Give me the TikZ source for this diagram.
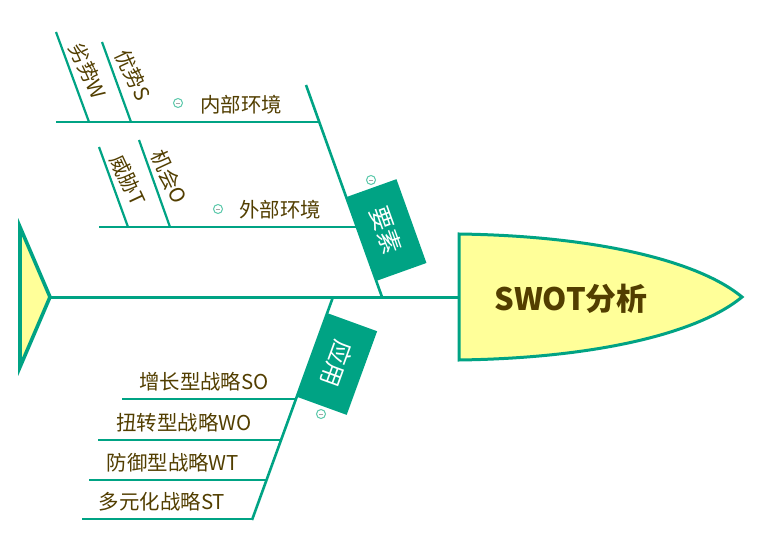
\documentclass[tikz,border=0pt]{standalone}
\usepackage{fontspec}
\setmainfont{Noto Sans CJK SC}
\usetikzlibrary{positioning}
\definecolor{mBone}{RGB}{0,163,132}
\definecolor{mHead}{RGB}{255,255,153}
\definecolor{mText}{RGB}{82,62,0}
\definecolor{mIcon}{RGB}{90,200,170}
\tikzset{
  spineln/.style={line width=3bp, mBone},
  boneln/.style={line width=2.6bp, mBone},
  twigln/.style={line width=2.2bp, mBone},
  lbl/.style={text=mText, font=\fontsize{20.5}{22}\selectfont, inner sep=0pt},
  tag/.style={fill=mBone, text=white, font=\fontsize{24}{26}\selectfont,
    minimum width=89bp, minimum height=53bp, inner sep=0pt},
  icon/.style={circle, draw=mIcon, line width=1bp, minimum size=9bp, inner sep=0pt,
    path picture={\draw[gray!70, line width=0.9bp]
      ([xshift=-2.2bp]path picture bounding box.center) --
      ([xshift=2.2bp]path picture bounding box.center);}},
}
\begin{document}
\begin{tikzpicture}[x=1bp, y=-1bp]
    \useasboundingbox (0,0) rectangle (758,541);
    % tail
    \draw[line width=3.6bp, mBone, fill=mHead, line join=miter]
      (20,227) -- (50,297) -- (20,367) -- cycle;
    \coordinate (tail) at (50,297);
    % head
    \draw[line width=3bp, mBone, fill=mHead]
      (459,234) .. controls (600,236) and (700,262) .. (742,297)
      .. controls (700,332) and (600,358) .. (459,360) -- cycle;
    \coordinate (head) at (459,297);
    \node[text=mText, font=\fontsize{31}{33}\selectfont\bfseries] (swot) at (571,299) {SWOT分析};
    % spine
    \draw[spineln] (tail) -- (head);
    % upper bone
    \coordinate (upRoot) at (382,297);
    \coordinate (upTop) at (306,85);
    \draw[boneln] (upRoot) -- (upTop);
    \node[tag, rotate=-70.3] (yaosu) at (386.5,230) {要素};
    \node[icon] (yaosuIcon) at (371,180) {};
    % inner environment
    \coordinate (inL) at (56,122);
    \coordinate (inR) at (319.3,122);
    \draw[twigln] (inL) -- (inR);
    \node[lbl] (inner) at (241,105) {内部环境};
    \node[icon] (innerIcon) at (178,103) {};
    \foreach \nm/\xt/\yt/\xb in {weak/56/32/89, strong/102/42/131} {
      \coordinate (\nm1) at (\xt,\yt);
      \coordinate (\nm2) at (\xb,122);
      \draw[twigln] (\nm1) -- (\nm2);
    }
    \node[lbl, rotate=-65] (weakT) at (88,71) {劣势W};
    \node[lbl, rotate=-65] (strongT) at (133,75) {优势S};
    % outer environment
    \coordinate (outL) at (99,227);
    \coordinate (outR) at (356.9,227);
    \draw[twigln] (outL) -- (outR);
    \node[lbl] (outer) at (280,210) {外部环境};
    \node[icon] (outerIcon) at (218,209) {};
    \foreach \nm/\xt/\yt/\xb in {threat/99/147/128, chance/139/140/170} {
      \coordinate (\nm1) at (\xt,\yt);
      \coordinate (\nm2) at (\xb,227);
      \draw[twigln] (\nm1) -- (\nm2);
    }
    \node[lbl, rotate=-65] (threatT) at (128,180) {威胁T};
    \node[lbl, rotate=-65] (chanceT) at (169,177) {机会O};
    % lower bone
    \coordinate (loRoot) at (333,297);
    \coordinate (loEnd) at (252,520);
    \draw[boneln] (loRoot) -- (loEnd);
    \node[tag, rotate=-110] (yingyong) at (337,364) {应用};
    \node[icon] (yingyongIcon) at (321,414) {};
    % strategies
    \foreach \nm/\y/\xl/\xr/\xc/\txt in {so/399/122/296.0/204/增长型战略SO,
        wo/440/98/281.1/184/扭转型战略WO, wt/480/89/266.6/173/防御型战略WT,
        st/519/82/252.4/162/多元化战略ST} {
      \coordinate (\nm L) at (\xl,\y);
      \coordinate (\nm R) at (\xr,\y);
      \draw[twigln] (\nm L) -- (\nm R);
      \node[lbl] (\nm T) at (\xc,\y-17) {\txt};
    }
\end{tikzpicture}
\end{document}
